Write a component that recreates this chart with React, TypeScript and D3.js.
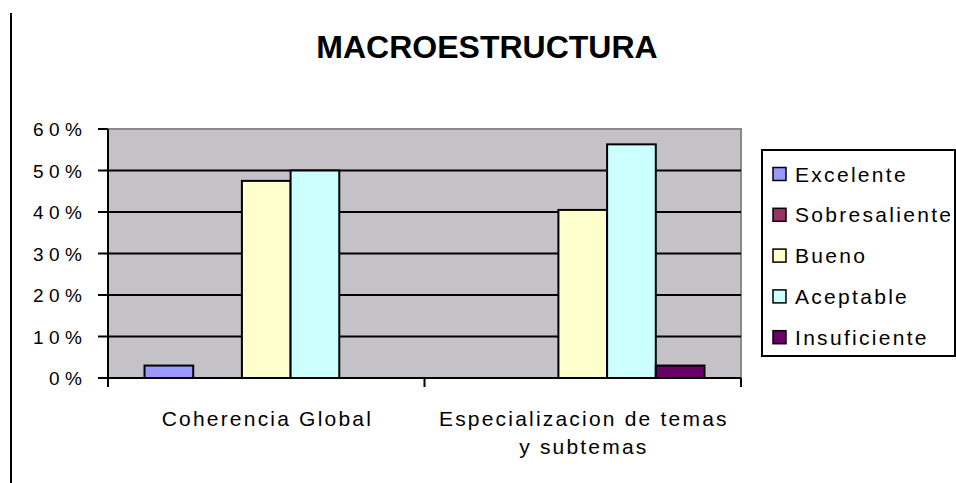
import React from "react";
import * as d3 from "d3";

const title = "MACROESTRUCTURA";
const categories = ["Coherencia Global", "Especializacion de temas y subtemas"];
const categoryLines = [["Coherencia Global"], ["Especializacion de temas", "y subtemas"]];
const seriesNames = ["Excelente", "Sobresaliente", "Bueno", "Aceptable", "Insuficiente"];
const excelente = [0.03, 0];
const sobresaliente = [0, 0];
const bueno = [0.475, 0.405];
const aceptable = [0.5, 0.563];
const insuficiente = [0, 0.03];
const seriesValues = [excelente, sobresaliente, bueno, aceptable, insuficiente];
const seriesColors = ["#9999FF", "#993366", "#FFFFCC", "#CCFFFF", "#660066"];
const yTicks = [0, 0.1, 0.2, 0.3, 0.4, 0.5, 0.6];

const W = 956;
const H = 483;
const plot = { left: 108, right: 741, top: 129, bottom: 378 };
const FONT = "'Liberation Sans', Arial, sans-serif";

export default function App() {
  const x0 = d3.scaleBand<string>().domain(categories).range([plot.left, plot.right]).padding(0);
  const x1 = d3
    .scaleBand<string>()
    .domain(seriesNames)
    .range([0, x0.bandwidth()])
    .paddingInner(0)
    .paddingOuter(0.75);
  const y = d3.scaleLinear().domain([0, 0.6]).range([plot.bottom, plot.top]);
  const fmt = d3.format(".0%");

  const legendX = 762;
  const legendY = 150;
  const legendW = 193;
  const legendH = 206;
  const legendStep = 40.8;
  const legendFirst = 174;

  const xlSpacing = 2.2;
  const ytSpacing = 5.5;

  return (
    <svg
      width={W}
      height={H}
      style={{ position: "absolute", left: 0, top: 0, background: "#fff" }}
      fontFamily={FONT}
    >
      <rect x={0} y={0} width={W} height={H} fill="#fff" />
      <line x1={11} y1={13} x2={11} y2={H} stroke="#000" strokeWidth={2} />

      <text x={487} y={58} textAnchor="middle" fontSize={32} fontWeight="bold" fill="#000">
        {title}
      </text>

      <rect
        x={plot.left}
        y={plot.top}
        width={plot.right - plot.left}
        height={plot.bottom - plot.top}
        fill="#c4c2c6"
        stroke="#8a8a8a"
        strokeWidth={2}
      />

      {yTicks.slice(1, -1).map((t) => (
        <line
          key={"g" + t}
          x1={plot.left}
          x2={plot.right}
          y1={y(t)}
          y2={y(t)}
          stroke="#000"
          strokeWidth={2}
        />
      ))}

      {categories.map((c, ci) => (
        <g key={c} transform={`translate(${x0(c)},0)`}>
          {seriesNames.map((s, si) => {
            const v = seriesValues[si][ci];
            if (!v) return null;
            return (
              <rect
                key={s}
                x={x1(s)}
                y={y(v)}
                width={x1.bandwidth()}
                height={y(0) - y(v)}
                fill={seriesColors[si]}
                stroke="#000"
                strokeWidth={2}
              />
            );
          })}
        </g>
      ))}

      <line x1={plot.left} x2={plot.left} y1={plot.top} y2={plot.bottom + 9} stroke="#000" strokeWidth={2} />
      {yTicks.map((t) => (
        <g key={"t" + t}>
          <line x1={plot.left - 10} x2={plot.left} y1={y(t)} y2={y(t)} stroke="#000" strokeWidth={2} />
          <text
            x={82 + ytSpacing}
            y={y(t) + 7}
            textAnchor="end"
            fontSize={19}
            letterSpacing={ytSpacing}
            fill="#000"
          >
            {fmt(t)}
          </text>
        </g>
      ))}

      <line x1={plot.left - 10} x2={plot.right} y1={plot.bottom} y2={plot.bottom} stroke="#000" strokeWidth={2} />
      {[...categories.map((c) => x0(c) as number), plot.right].map((xv, i) => (
        <line key={"xt" + i} x1={xv} x2={xv} y1={plot.bottom} y2={plot.bottom + 9} stroke="#000" strokeWidth={2} />
      ))}
      {categories.map((c, ci) => {
        const cx = (x0(c) as number) + x0.bandwidth() / 2 + xlSpacing / 2;
        return (
          <text
            key={"xl" + c}
            x={cx}
            y={426}
            textAnchor="middle"
            fontSize={21}
            letterSpacing={xlSpacing}
            fill="#000"
          >
            {categoryLines[ci].map((ln, li) => (
              <tspan key={li} x={cx} dy={li === 0 ? 0 : 28}>
                {ln}
              </tspan>
            ))}
          </text>
        );
      })}

      <rect x={legendX} y={legendY} width={legendW} height={legendH} fill="#fff" stroke="#000" strokeWidth={2} />
      {seriesNames.map((s, si) => {
        const cy = legendFirst + si * legendStep;
        return (
          <g key={"lg" + s}>
            <rect x={773} y={cy - 6.5} width={13} height={13} fill={seriesColors[si]} stroke="#000" strokeWidth={1.5} />
            <text x={795} y={cy + 7.5} fontSize={21} letterSpacing={2.3} fill="#000">
              {s}
            </text>
          </g>
        );
      })}
    </svg>
  );
}
